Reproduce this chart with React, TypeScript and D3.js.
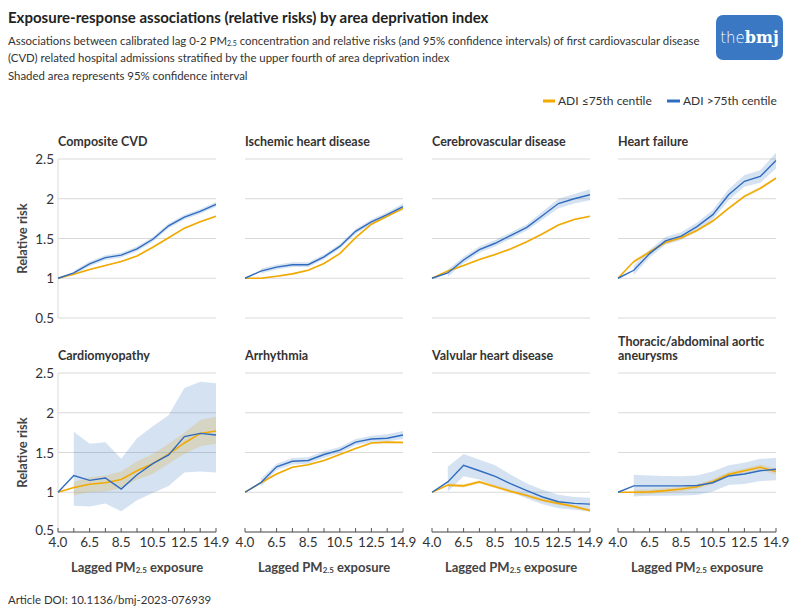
import * as d3 from "d3";

// x categories (lagged PM2.5 exposure) and labelled ticks
const xCats = ["4.0", "5.5", "6.5", "7.5", "8.5", "9.5", "10.5", "11.5", "12.5", "13.5", "14.9"];
const xTickLabels = ["4.0", "6.5", "8.5", "10.5", "12.5", "14.9"];
const yTicks = [0.5, 1, 1.5, 2, 2.5];

// Composite CVD
const cvdHigh = [1.0, 1.067, 1.18, 1.26, 1.29, 1.37, 1.49, 1.66, 1.77, 1.84, 1.93];
const cvdHighLo = [null, 1.04, 1.15, 1.23, 1.26, 1.34, 1.46, 1.63, 1.74, 1.81, 1.9];
const cvdHighHi = [null, 1.09, 1.21, 1.29, 1.32, 1.4, 1.52, 1.69, 1.8, 1.87, 1.96];
const cvdLow = [1.0, 1.05, 1.11, 1.16, 1.21, 1.28, 1.39, 1.51, 1.63, 1.71, 1.78];
const cvdLowLo = [null, 1.04, 1.1, 1.15, 1.2, 1.27, 1.38, 1.5, 1.62, 1.7, 1.77];
const cvdLowHi = [null, 1.06, 1.12, 1.17, 1.22, 1.29, 1.4, 1.52, 1.64, 1.72, 1.79];

// Ischemic heart disease
const ihdHigh = [1.0, 1.09, 1.14, 1.17, 1.17, 1.27, 1.4, 1.59, 1.71, 1.8, 1.9];
const ihdHighLo = [null, 1.06, 1.11, 1.14, 1.14, 1.24, 1.37, 1.56, 1.68, 1.77, 1.86];
const ihdHighHi = [null, 1.12, 1.17, 1.2, 1.2, 1.3, 1.43, 1.62, 1.74, 1.83, 1.94];
const ihdLow = [1.0, 1.0, 1.025, 1.055, 1.1, 1.185, 1.31, 1.51, 1.68, 1.78, 1.88];
const ihdLowLo = [null, 0.99, 1.015, 1.045, 1.09, 1.175, 1.3, 1.5, 1.67, 1.77, 1.87];
const ihdLowHi = [null, 1.01, 1.035, 1.065, 1.11, 1.195, 1.32, 1.52, 1.69, 1.79, 1.89];

// Cerebrovascular disease
const cbvHigh = [1.0, 1.067, 1.23, 1.36, 1.44, 1.54, 1.64, 1.79, 1.94, 2.0, 2.05];
const cbvHighLo = [null, 1.02, 1.19, 1.32, 1.4, 1.5, 1.6, 1.74, 1.88, 1.94, 1.98];
const cbvHighHi = [null, 1.11, 1.27, 1.4, 1.48, 1.58, 1.68, 1.84, 2.0, 2.06, 2.12];
const cbvLow = [1.0, 1.09, 1.16, 1.235, 1.3, 1.37, 1.46, 1.56, 1.67, 1.74, 1.78];
const cbvLowLo = [null, 1.08, 1.15, 1.225, 1.29, 1.36, 1.45, 1.55, 1.66, 1.73, 1.77];
const cbvLowHi = [null, 1.1, 1.17, 1.245, 1.31, 1.38, 1.47, 1.57, 1.68, 1.75, 1.79];

// Heart failure
const hfHigh = [1.0, 1.1, 1.31, 1.47, 1.53, 1.65, 1.8, 2.05, 2.22, 2.28, 2.48];
const hfHighLo = [null, 1.04, 1.26, 1.42, 1.48, 1.6, 1.74, 1.98, 2.15, 2.2, 2.38];
const hfHighHi = [null, 1.16, 1.36, 1.52, 1.58, 1.7, 1.86, 2.12, 2.3, 2.36, 2.58];
const hfLow = [1.0, 1.21, 1.33, 1.45, 1.51, 1.6, 1.72, 1.88, 2.03, 2.13, 2.26];
const hfLowLo = [null, 1.19, 1.31, 1.43, 1.49, 1.585, 1.705, 1.865, 2.01, 2.11, 2.24];
const hfLowHi = [null, 1.23, 1.35, 1.47, 1.53, 1.615, 1.735, 1.895, 2.05, 2.15, 2.28];

// Cardiomyopathy
const cmHigh = [1.0, 1.21, 1.15, 1.18, 1.04, 1.22, 1.36, 1.47, 1.7, 1.74, 1.72];
const cmHighLo = [null, 0.83, 0.82, 0.86, 0.76, 0.9, 0.99, 1.08, 1.25, 1.26, 1.25];
const cmHighHi = [null, 1.76, 1.61, 1.63, 1.42, 1.68, 1.83, 1.97, 2.31, 2.39, 2.37];
const cmLow = [1.0, 1.06, 1.1, 1.12, 1.16, 1.27, 1.36, 1.48, 1.62, 1.74, 1.77];
const cmLowLo = [null, 0.96, 1.0, 1.01, 1.05, 1.16, 1.23, 1.36, 1.48, 1.58, 1.61];
const cmLowHi = [null, 1.13, 1.19, 1.21, 1.26, 1.39, 1.48, 1.61, 1.75, 1.91, 1.95];

// Arrhythmia
const arHigh = [1.0, 1.12, 1.32, 1.39, 1.4, 1.475, 1.53, 1.63, 1.67, 1.68, 1.72];
const arHighLo = [null, 1.07, 1.28, 1.35, 1.36, 1.435, 1.49, 1.59, 1.63, 1.64, 1.67];
const arHighHi = [null, 1.17, 1.36, 1.43, 1.44, 1.515, 1.57, 1.67, 1.71, 1.73, 1.77];
const arLow = [1.0, 1.12, 1.23, 1.315, 1.345, 1.4, 1.475, 1.55, 1.62, 1.63, 1.625];
const arLowLo = [null, 1.11, 1.22, 1.305, 1.335, 1.39, 1.465, 1.54, 1.61, 1.62, 1.61];
const arLowHi = [null, 1.13, 1.24, 1.325, 1.355, 1.41, 1.485, 1.56, 1.63, 1.64, 1.64];

// Valvular heart disease
const vhHigh = [1.0, 1.13, 1.34, 1.27, 1.2, 1.105, 1.02, 0.94, 0.88, 0.86, 0.85];
const vhHighLo = [null, 1.01, 1.2, 1.16, 1.08, 1.01, 0.92, 0.85, 0.8, 0.78, 0.76];
const vhHighHi = [null, 1.32, 1.48, 1.41, 1.34, 1.22, 1.11, 1.03, 0.97, 0.94, 0.93];
const vhLow = [1.0, 1.09, 1.08, 1.13, 1.07, 1.01, 0.96, 0.9, 0.86, 0.82, 0.77];
const vhLowLo = [null, 1.07, 1.06, 1.11, 1.05, 0.99, 0.94, 0.88, 0.84, 0.8, 0.75];
const vhLowHi = [null, 1.11, 1.1, 1.15, 1.09, 1.03, 0.98, 0.92, 0.88, 0.84, 0.79];

// Thoracic/abdominal aortic aneurysms
const taHigh = [1.0, 1.08, 1.08, 1.08, 1.08, 1.085, 1.12, 1.205, 1.23, 1.27, 1.29];
const taHighLo = [null, 0.945, 0.955, 0.955, 0.96, 0.965, 1.01, 1.09, 1.105, 1.14, 1.15];
const taHighHi = [null, 1.22, 1.21, 1.205, 1.2, 1.21, 1.26, 1.34, 1.37, 1.42, 1.43];
const taLow = [1.0, 1.0, 1.005, 1.02, 1.04, 1.07, 1.135, 1.225, 1.27, 1.315, 1.26];
const taLowLo = [null, 0.97, 0.975, 0.99, 1.01, 1.04, 1.105, 1.195, 1.24, 1.28, 1.22];
const taLowHi = [null, 1.03, 1.035, 1.05, 1.07, 1.1, 1.165, 1.255, 1.3, 1.35, 1.3];

const panels = [
  { title: ["Composite CVD"], low: cvdLow, lowLo: cvdLowLo, lowHi: cvdLowHi, high: cvdHigh, highLo: cvdHighLo, highHi: cvdHighHi },
  { title: ["Ischemic heart disease"], low: ihdLow, lowLo: ihdLowLo, lowHi: ihdLowHi, high: ihdHigh, highLo: ihdHighLo, highHi: ihdHighHi },
  { title: ["Cerebrovascular disease"], low: cbvLow, lowLo: cbvLowLo, lowHi: cbvLowHi, high: cbvHigh, highLo: cbvHighLo, highHi: cbvHighHi },
  { title: ["Heart failure"], low: hfLow, lowLo: hfLowLo, lowHi: hfLowHi, high: hfHigh, highLo: hfHighLo, highHi: hfHighHi },
  { title: ["Cardiomyopathy"], low: cmLow, lowLo: cmLowLo, lowHi: cmLowHi, high: cmHigh, highLo: cmHighLo, highHi: cmHighHi },
  { title: ["Arrhythmia"], low: arLow, lowLo: arLowLo, lowHi: arLowHi, high: arHigh, highLo: arHighLo, highHi: arHighHi },
  { title: ["Valvular heart disease"], low: vhLow, lowLo: vhLowLo, lowHi: vhLowHi, high: vhHigh, highLo: vhHighLo, highHi: vhHighHi },
  { title: ["Thoracic/abdominal aortic", "aneurysms"], low: taLow, lowLo: taLowLo, lowHi: taLowHi, high: taHigh, highLo: taHighLo, highHi: taHighHi },
];

const ORANGE = "#f2a900";
const ORANGE_BAND = "#d9b55a";
const BLUE = "#2f6cc0";
const FONT = "Lato, 'Open Sans', sans-serif";

const W = 800;
const H = 614;
const colX = [58, 245, 432, 618];
const plotW = 158;
const rowTop = [159, 373];
const plotH = 159;

function Panel({ p, i }) {
  const col = i % 4;
  const row = Math.floor(i / 4);
  const x0 = colX[col];
  const y0 = rowTop[row];
  const x = d3.scalePoint().domain(xCats).range([x0, x0 + plotW]);
  const y = d3.scaleLinear().domain([0.5, 2.5]).range([y0 + plotH, y0]);

  const line = d3
    .line<number>()
    .x((_, k) => x(xCats[k]))
    .y((d) => y(d));

  const band = (lo, hi) =>
    d3
      .area<number | null>()
      .defined((d) => d != null)
      .x((_, k) => x(xCats[k]))
      .y0((_, k) => y(lo[k]))
      .y1((_, k) => y(hi[k]))(lo);

  return (
    <g>
      {p.title.map((t, k) => (
        <text
          key={k}
          x={x0}
          y={y0 - 13 - (p.title.length - 1 - k) * 14}
          fontSize={12.5}
          fontWeight={700}
          fill="#333"
        >
          {t}
        </text>
      ))}
      {yTicks.map((t) => (
        <line key={t} x1={x0} x2={x0 + plotW} y1={y(t)} y2={y(t)} stroke="#d9d9d9" strokeWidth={1} />
      ))}
      {col === 0 && (
        <g>
          <line x1={x0} x2={x0} y1={y0} y2={y0 + plotH} stroke="#d9d9d9" />
          {yTicks.map((t) => (
            <text key={t} x={x0 - 4} y={y(t) + (t === 0.5 && row === 1 ? 3 : 5)} textAnchor="end" fontSize={13.5} fill="#333">
              {t}
            </text>
          ))}
          <text
            transform={`translate(${x0 - 31},${y0 + plotH / 2}) rotate(-90)`}
            textAnchor="middle"
            fontSize={13}
            fontWeight={700}
            fill="#444"
          >
            Relative risk
          </text>
        </g>
      )}
      <path d={band(p.highLo, p.highHi)} fill={BLUE} fillOpacity={0.2} />
      <path d={band(p.lowLo, p.lowHi)} fill={ORANGE_BAND} fillOpacity={0.3} />
      <path d={line(p.low)} fill="none" stroke={ORANGE} strokeWidth={1.6} />
      <path d={line(p.high)} fill="none" stroke={BLUE} strokeWidth={1.4} />
      {row === 1 && (
        <g>
          <line x1={x0} x2={x0 + plotW} y1={y0 + plotH} y2={y0 + plotH} stroke="#555" />
          {xCats.map((c) => (
            <line key={c} x1={x(c)} x2={x(c)} y1={y0 + plotH} y2={y0 + plotH - 4} stroke="#555" />
          ))}
          {xTickLabels.map((c) => (
            <text key={c} x={x(c)} y={y0 + plotH + 15} textAnchor="middle" fontSize={13.5} fill="#333">
              {c}
            </text>
          ))}
          <text x={x0 + plotW / 2} y={y0 + plotH + 40} textAnchor="middle" fontSize={13} fontWeight={700} fill="#444">
            Lagged PM
            <tspan fontSize={8} dy={1}>2.5</tspan>
            <tspan dy={-1}> exposure</tspan>
          </text>
        </g>
      )}
    </g>
  );
}

export default function App() {
  return (
    <svg
      width={W}
      height={H}
      style={{ position: "absolute", left: 0, top: 0, background: "#fff" }}
      fontFamily={FONT}
    >
      <rect width={W} height={H} fill="#fff" />
      <text x={8} y={23} fontSize={15} fontWeight={700} fill="#222">
        Exposure-response associations (relative risks) by area deprivation index
      </text>
      <text x={8} y={45} fontSize={11.4} fill="#333">
        Associations between calibrated lag 0-2 PM
        <tspan fontSize={7} dy={1}>2.5</tspan>
        <tspan dy={-1}> concentration and relative risks (and 95% confidence intervals) of first cardiovascular disease</tspan>
      </text>
      <text x={8} y={62} fontSize={11.4} fill="#333">
        (CVD) related hospital admissions stratified by the upper fourth of area deprivation index
      </text>
      <text x={8} y={80} fontSize={11.4} fill="#333">
        Shaded area represents 95% confidence interval
      </text>

      {/* legend */}
      <line x1={543} x2={555} y1={101} y2={101} stroke={ORANGE} strokeWidth={3} />
      <text x={558} y={105} fontSize={12} fill="#333">ADI ≤75th centile</text>
      <line x1={667} x2={680} y1={101} y2={101} stroke={BLUE} strokeWidth={3} />
      <text x={683} y={105} fontSize={12} fill="#333">ADI &gt;75th centile</text>

      {/* logo */}
      <rect x={716} y={15} width={67} height={45} rx={7} fill="#3a78c4" />
      <text x={749.5} y={43} textAnchor="middle" fill="#fff" fontSize={17}>
        <tspan fontFamily="'DejaVu Sans', sans-serif" fontWeight={300} fontSize={15}>the</tspan>
        <tspan fontFamily="'DejaVu Serif', serif" fontWeight={700} fontSize={16}>bmj</tspan>
      </text>

      {panels.map((p, i) => (
        <Panel key={i} p={p} i={i} />
      ))}

      <text x={8} y={604} fontSize={11.4} fill="#333">
        Article DOI: 10.1136/bmj-2023-076939
      </text>
    </svg>
  );
}
